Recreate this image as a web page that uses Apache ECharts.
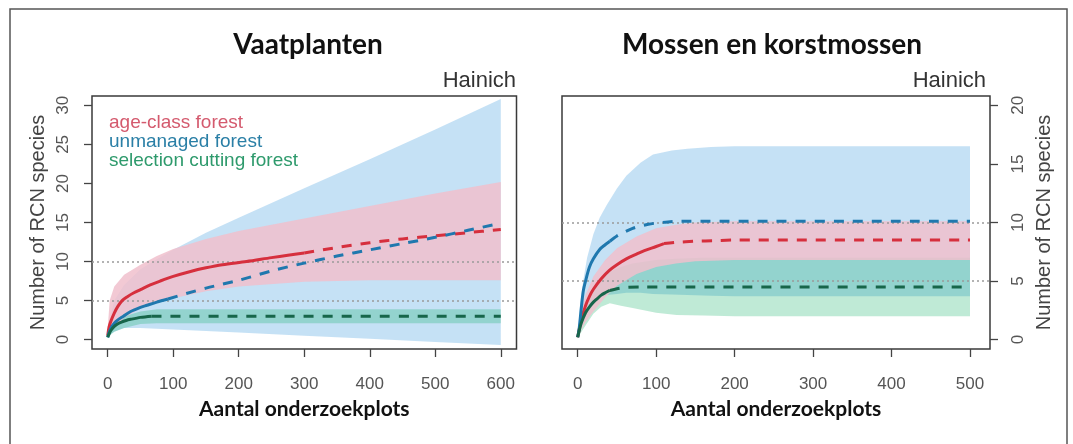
<!DOCTYPE html>
<html>
<head>
<meta charset="utf-8">
<script src="https://cdn.jsdelivr.net/npm/echarts@6/dist/echarts.min.js"></script>
<style>
html,body{margin:0;padding:0;background:#fff;}
#chart{width:1073px;height:444px;}
</style>
</head>
<body>
<div id="chart"></div>
<script>
// ---------- DATA ----------
const titles = ['Vaatplanten', 'Mossen en korstmossen'];
const siteLabel = 'Hainich';
const xAxisTitle = 'Aantal onderzoekplots';
const yAxisTitle = 'Number of RCN species';
const legendNames = ['age-class forest', 'unmanaged forest', 'selection cutting forest'];

const vaatXTicks = [0, 100, 200, 300, 400, 500, 600];
const vaatYTicks = [0, 5, 10, 15, 20, 25, 30];
const mosXTicks = [0, 100, 200, 300, 400, 500];
const mosYTicks = [0, 5, 10, 15, 20];
const refLines = [5, 10];

// Vaatplanten curves [plots, species]
const vaatRedSolid = [[0,0.5],[2,1.6],[5,2.4],[10,3.4],[15,4.2],[22,5.0],[30,5.5],[40,6.0],[50,6.4],[65,7.0],[80,7.5],[100,8.1],[125,8.7],[150,9.2],[175,9.6],[212,10.0],[250,10.5],[275,10.8],[300,11.1]];
const vaatRedDashed = [[300,11.1],[350,11.8],[400,12.4],[450,12.9],[500,13.3],[550,13.7],[600,14.1]];
const vaatBlueSolid = [[0,0.3],[2,0.9],[5,1.5],[10,2.1],[15,2.5],[24,3.0],[35,3.6],[49,4.1],[60,4.4],[75,4.8],[92,5.2]];
const vaatBlueDashed = [[92,5.2],[120,5.9],[150,6.6],[200,7.6],[250,8.8],[300,9.8],[350,10.7],[400,11.5],[450,12.3],[500,13.1],[550,14.0],[600,14.9]];
const vaatGreenSolid = [[0,0.3],[2,0.7],[5,1.2],[10,1.7],[15,2.0],[20,2.2],[28,2.45],[35,2.6],[50,2.85],[67,3.0]];
const vaatGreenDashed = [[67,3.0],[600,3.0]];
// Vaatplanten bands [plots, lower, upper]
const vaatBlueBand = [[0,0.2,0.5],[5,0.7,3.2],[10,1.0,5.0],[25,1.5,7.0],[50,1.5,9.0],[75,1.4,10.3],[100,1.3,11.5],[150,1.1,13.7],[200,0.9,15.6],[300,0.5,19.4],[400,0.1,23.1],[500,-0.3,26.9],[600,-0.7,30.8]];
const vaatRedBand = [[0,0.3,1.5],[3,0.9,5.0],[10,1.5,6.8],[25,2.8,8.3],[50,4.0,9.6],[75,4.8,10.7],[100,5.3,11.6],[150,6.2,12.9],[200,6.8,13.9],[300,7.4,15.5],[400,7.6,17.1],[500,7.6,18.7],[600,7.6,20.2]];
const vaatGreenBand = [[0,0.2,0.5],[5,0.7,1.6],[10,1.0,2.2],[25,1.5,3.0],[50,2.0,3.6],[75,2.1,3.9],[600,2.1,3.9]];

// Mossen curves
const mosRedSolid = [[0,0.2],[2,0.9],[5,1.8],[10,2.9],[15,3.7],[20,4.3],[30,5.2],[40,5.9],[50,6.4],[62,6.9],[75,7.3],[85,7.6],[100,7.95],[110,8.2]];
const mosRedDashed = [[110,8.2],[125,8.3],[150,8.4],[175,8.45],[200,8.5],[500,8.5]];
const mosBlueSolid = [[0,0.2],[2,1.0],[4,2.3],[7,4.1],[10,5.0],[15,6.2],[20,6.9],[28,7.7],[35,8.1],[41,8.4]];
const mosBlueDashed = [[41,8.4],[50,8.85],[60,9.2],[70,9.5],[80,9.7],[90,9.85],[100,9.95],[115,10.05],[130,10.1],[500,10.1]];
const mosGreenSolid = [[0,0.2],[2,0.8],[5,1.5],[10,2.3],[15,2.8],[20,3.2],[25,3.5],[30,3.8],[35,4.0],[41,4.2]];
const mosGreenDashed = [[41,4.2],[50,4.35],[60,4.45],[80,4.5],[500,4.5]];
// Mossen bands
const mosBlueBand = [[0,0.2,0.3],[3,0.8,3.0],[7,1.5,5.0],[12,2.2,7.0],[20,3.0,9.0],[28,3.5,10.4],[37,3.8,11.5],[50,3.9,12.9],[62,4.0,14.0],[80,4.0,15.1],[96,3.9,15.8],[120,3.85,16.15],[140,3.8,16.3],[170,3.75,16.45],[200,3.7,16.5],[500,3.7,16.5]];
const mosRedBand = [[0,0.1,0.8],[5,0.9,2.5],[10,1.5,3.8],[20,2.4,5.4],[35,3.6,6.8],[50,4.6,7.8],[75,5.6,8.8],[100,6.2,9.5],[125,6.5,9.8],[150,6.7,10.0],[200,6.8,10.1],[500,6.8,10.1]];
const mosGreenBand = [[0,0.1,0.4],[5,0.7,1.9],[10,1.2,3.0],[20,2.2,4.4],[30,2.8,5.2],[41,3.1,5.8],[55,2.9,6.2],[70,2.7,6.5],[100,2.3,6.8],[126,2.1,6.9],[160,2.05,7.0],[200,2.0,7.0],[500,2.0,7.0]];

// ---------- STYLE ----------
const C = {
  red: '#d62f3d', blue: '#1f78ae', green: '#17664a',
  legRed: '#d45a6e', legBlue: '#2a7fa6', legGreen: '#2e9a6c',
  bandBlue: 'rgba(140,195,235,0.5)', bandRed: 'rgba(240,192,205,0.85)', bandGreen: 'rgba(0,170,90,0.25)'
};
const TICK_FONT = 'Liberation Sans, Arial, sans-serif';
const HEAD_FONT = 'Lato, Open Sans, sans-serif';

function bandSeries(band, gi, color, z) {
  return {
    type: 'custom', xAxisIndex: gi, yAxisIndex: gi, data: band, z: z, silent: true, clip: true,
    renderItem: function (params, api) {
      if (params.dataIndex !== 0) return null;
      const up = band.map(d => api.coord([d[0], d[2]]));
      const lo = band.slice().reverse().map(d => api.coord([d[0], d[1]]));
      return { type: 'polygon', shape: { points: up.concat(lo) }, style: { fill: color } };
    }
  };
}
function lineSeries(name, data, gi, color, dashed, z) {
  return {
    name: name, type: 'line', xAxisIndex: gi, yAxisIndex: gi, data: data, z: z,
    showSymbol: false, symbol: 'none', smooth: 0.3, silent: true,
    lineStyle: { color: color, width: 3, type: dashed ? [10, 9] : 'solid', cap: 'butt' }
  };
}
function refSeries(gi) {
  return {
    type: 'line', xAxisIndex: gi, yAxisIndex: gi, data: [], z: 4, silent: true,
    markLine: {
      silent: true, symbol: 'none', label: { show: false },
      lineStyle: { color: '#9a9a9a', type: [2, 3], width: 1.5 },
      data: refLines.map(v => ({ yAxis: v }))
    }
  };
}
function xAxisDef(gi, min, max, ticks) {
  return {
    gridIndex: gi, type: 'value', min: min, max: max,
    splitLine: { show: false }, axisLine: { show: false, onZero: false },
    axisTick: { show: true, length: 8, customValues: ticks, lineStyle: { color: '#444', width: 1.3 } },
    axisLabel: { customValues: ticks, margin: 27, fontSize: 17, color: '#555', fontFamily: TICK_FONT },
    name: xAxisTitle, nameLocation: 'middle', nameGap: 50,
    nameTextStyle: { fontSize: 21, fontWeight: 'bold', color: '#111', fontFamily: HEAD_FONT }
  };
}
function yAxisDef(gi, min, max, ticks, pos) {
  return {
    gridIndex: gi, type: 'value', min: min, max: max, position: pos,
    splitLine: { show: false }, axisLine: { show: false, onZero: false },
    axisTick: { show: true, length: 8, customValues: ticks, lineStyle: { color: '#444', width: 1.3 } },
    axisLabel: { customValues: ticks, rotate: 90, margin: 20, fontSize: 17, color: '#555', fontFamily: TICK_FONT },
    name: yAxisTitle, nameLocation: 'middle', nameGap: 44, nameRotate: 90,
    nameTextStyle: { fontSize: 20, color: '#444', fontFamily: TICK_FONT }
  };
}

const gridBox = { show: true, borderColor: '#3a3a3a', borderWidth: 1.5, backgroundColor: 'transparent' };

const option = {
  animation: false,
  backgroundColor: '#fff',
  grid: [
    Object.assign({ left: 92, top: 96, width: 424.5, height: 253 }, gridBox),
    Object.assign({ left: 562, top: 96, width: 428, height: 253 }, gridBox)
  ],
  xAxis: [xAxisDef(0, -24, 624, vaatXTicks), xAxisDef(1, -20, 525.5, mosXTicks)],
  yAxis: [yAxisDef(0, -1.2, 31.2, vaatYTicks, 'left'), yAxisDef(1, -0.8, 20.8, mosYTicks, 'right')],
  graphic: [
    { type: 'rect', shape: { x: 10, y: 9, width: 1057, height: 450 }, style: { fill: 'none', stroke: '#555', lineWidth: 1.5 }, silent: true },
    { type: 'text', x: 308, y: 45, style: { text: titles[0], font: 'bold 28px ' + HEAD_FONT, fill: '#111', align: 'center', verticalAlign: 'middle' } },
    { type: 'text', x: 772, y: 45, style: { text: titles[1], font: 'bold 28px ' + HEAD_FONT, fill: '#111', align: 'center', verticalAlign: 'middle' } },
    { type: 'text', x: 516, y: 81, style: { text: siteLabel, font: '22px ' + TICK_FONT, fill: '#333', align: 'right', verticalAlign: 'middle' } },
    { type: 'text', x: 986, y: 81, style: { text: siteLabel, font: '22px ' + TICK_FONT, fill: '#333', align: 'right', verticalAlign: 'middle' } },
    { type: 'text', x: 109, y: 123, style: { text: legendNames[0], font: '19px ' + TICK_FONT, fill: C.legRed, align: 'left', verticalAlign: 'middle' } },
    { type: 'text', x: 109, y: 142, style: { text: legendNames[1], font: '19px ' + TICK_FONT, fill: C.legBlue, align: 'left', verticalAlign: 'middle' } },
    { type: 'text', x: 109, y: 161, style: { text: legendNames[2], font: '19px ' + TICK_FONT, fill: C.legGreen, align: 'left', verticalAlign: 'middle' } }
  ],
  series: [
    bandSeries(vaatBlueBand, 0, C.bandBlue, 1),
    bandSeries(vaatGreenBand, 0, C.bandGreen, 2),
    bandSeries(vaatRedBand, 0, C.bandRed, 3),
    refSeries(0),
    lineSeries(legendNames[0], vaatRedSolid, 0, C.red, false, 5),
    lineSeries(legendNames[0], vaatRedDashed, 0, C.red, true, 5),
    lineSeries(legendNames[1], vaatBlueSolid, 0, C.blue, false, 6),
    lineSeries(legendNames[1], vaatBlueDashed, 0, C.blue, true, 6),
    lineSeries(legendNames[2], vaatGreenSolid, 0, C.green, false, 7),
    lineSeries(legendNames[2], vaatGreenDashed, 0, C.green, true, 7),

    bandSeries(mosBlueBand, 1, C.bandBlue, 1),
    bandSeries(mosGreenBand, 1, C.bandGreen, 2),
    bandSeries(mosRedBand, 1, C.bandRed, 3),
    refSeries(1),
    lineSeries(legendNames[0], mosRedSolid, 1, C.red, false, 5),
    lineSeries(legendNames[0], mosRedDashed, 1, C.red, true, 5),
    lineSeries(legendNames[1], mosBlueSolid, 1, C.blue, false, 6),
    lineSeries(legendNames[1], mosBlueDashed, 1, C.blue, true, 6),
    lineSeries(legendNames[2], mosGreenSolid, 1, C.green, false, 7),
    lineSeries(legendNames[2], mosGreenDashed, 1, C.green, true, 7)
  ]
};

const chart = echarts.init(document.getElementById('chart'), null, { renderer: 'canvas' });
chart.setOption(option);
</script>
</body>
</html>
